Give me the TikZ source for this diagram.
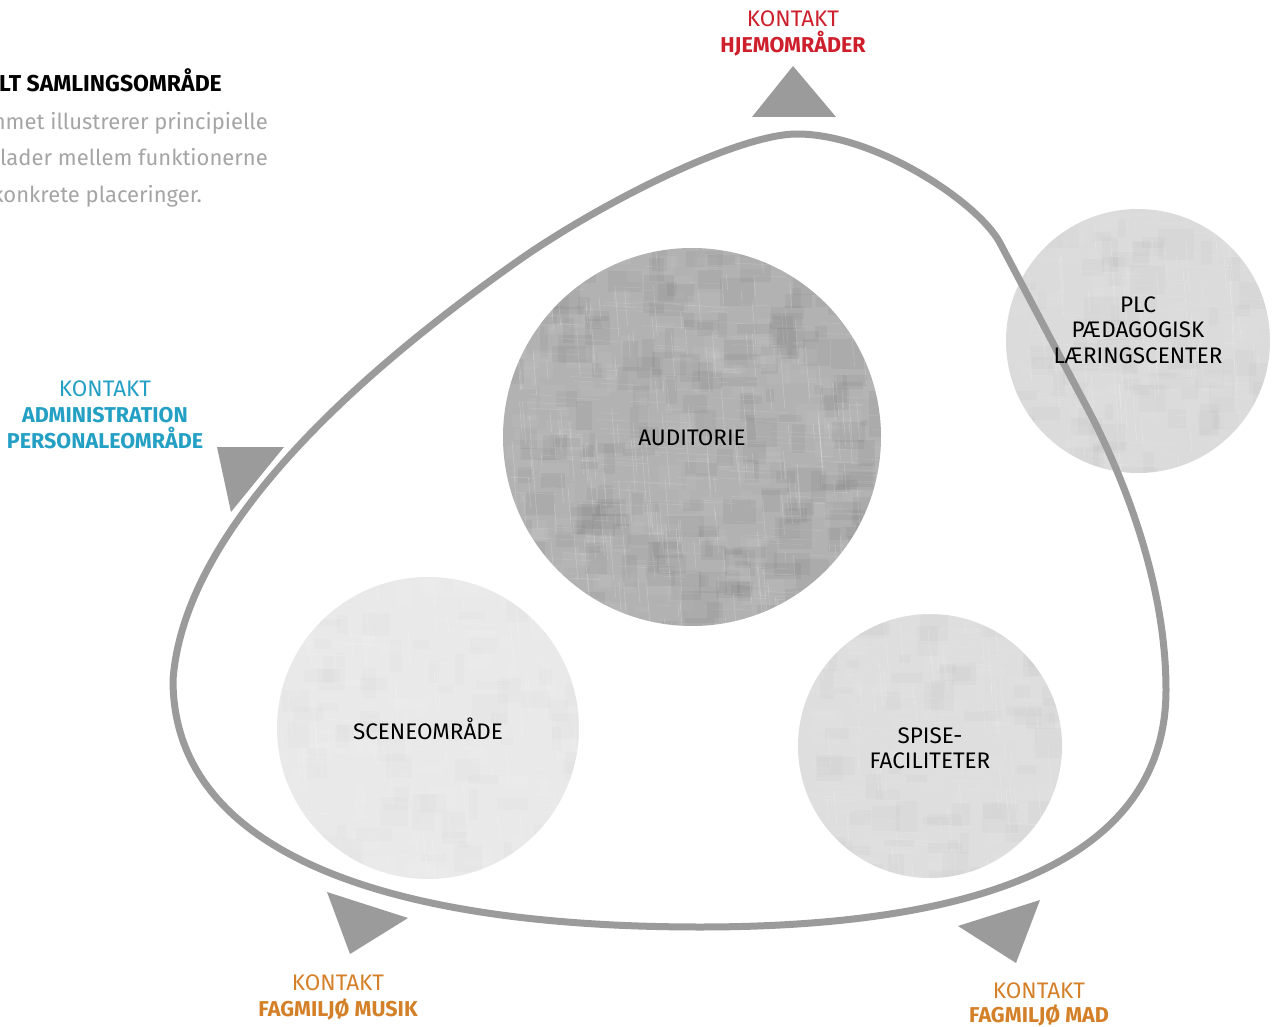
\documentclass[tikz,border=0pt]{standalone}
\usepackage{fontspec}
\setmainfont{Fira Sans}
\definecolor{linegray}{RGB}{155,155,155}
\definecolor{txtgray}{RGB}{165,165,165}
\definecolor{kred}{RGB}{205,32,44}
\definecolor{kcyan}{RGB}{36,160,196}
\definecolor{korange}{RGB}{212,128,40}
\definecolor{audfill}{RGB}{178,178,178}
\definecolor{plcfill}{RGB}{219,219,219}
\definecolor{scnfill}{RGB}{233,233,233}
\definecolor{spifill}{RGB}{222,222,222}
\tikzset{
  zone/.style={circle, draw=none, inner sep=0pt},
  ztext/.style={align=center, text=black, inner sep=0pt,
    font=\fontsize{22.5}{25.5}\selectfont},
  lbl/.style={anchor=base, inner sep=0pt, font=\fontsize{22.5}{26}\selectfont},
  lblb/.style={anchor=base, inner sep=0pt, font=\fontsize{21.5}{26}\selectfont\bfseries},
  tri/.style={fill=linegray, draw=none},
  loop/.style={draw=linegray, line width=7pt},
  desc/.style={anchor=base east, inner sep=0pt, text=txtgray, font=\fontsize{22}{26}\selectfont}
}
\newcommand{\mottle}[5]{% cx, cy, r, count, dark opacity
  \begin{scope}
  \clip (#1,#2) circle[radius=#3];
  \foreach \i in {1,...,#4}{
    \pgfmathsetmacro\rx{#1-#3+2*#3*rnd}\pgfmathsetmacro\ry{#2-#3+2*#3*rnd}
    \pgfmathsetmacro\ra{6+26*rnd}\pgfmathsetmacro\rb{5+20*rnd}
    \fill[white,opacity=0.05] (\rx,\ry) rectangle ++(\ra,\rb);
    \pgfmathsetmacro\dx{#1-#3+2*#3*rnd}\pgfmathsetmacro\dy{#2-#3+2*#3*rnd}
    \pgfmathsetmacro\da{8+30*rnd}\pgfmathsetmacro\db{6+26*rnd}
    \fill[black,opacity=#5] (\dx,\dy) rectangle ++(\da,\db);
    \pgfmathsetmacro\sx{#1-#3+2*#3*rnd}\pgfmathsetmacro\sy{#2-#3+2*#3*rnd}
    \pgfmathsetmacro\sl{10+50*rnd}
    \draw[white,opacity=0.22,line width=0.6pt] (\sx,\sy) -- ++(0.08*\sl,\sl);
    \pgfmathsetmacro\hx{#1-#3+2*#3*rnd}\pgfmathsetmacro\hy{#2-#3+2*#3*rnd}
    \draw[white,opacity=0.15,line width=0.5pt] (\hx,\hy) -- ++(\sl,0.05*\sl);
  }
  \end{scope}}
\begin{document}
\begin{tikzpicture}[x=1pt,y=-1pt]
\useasboundingbox (0,0) rectangle (1278,1027);
\fill[white] (0,0) rectangle (1278,1027);

% heading text
\node[anchor=base east, inner sep=0pt, font=\fontsize{23}{27}\selectfont\bfseries] (title) at (222,92) {LT SAMLINGSOMRÅDE};
\node[desc] (d1) at (268,130) {mmet illustrerer principielle};
\node[desc] (d2) at (268,166) {lader mellem funktionerne};
\node[desc] (d3) at (202,203) {konkrete placeringer.};

% circles
\pgfmathsetseed{11}
\node[zone, minimum size=378pt, fill=audfill] (aud) at (692,437) {};
\mottle{692}{437}{189}{220}{0.04}
\node[zone, minimum size=264pt, fill=plcfill] (plc) at (1138,341) {};
\mottle{1138}{341}{132}{70}{0.015}
\node[zone, minimum size=302pt, fill=scnfill] (scn) at (428,728) {};
\mottle{428}{728}{151}{70}{0.012}
\node[zone, minimum size=264pt, fill=spifill] (spi) at (930,746) {};
\mottle{930}{746}{132}{70}{0.015}

% closed loop
\draw[loop, line join=round] (797,134) .. controls (740,134) and (610,198) .. (525,256)
  .. controls (390,350) and (185,515) .. (173,680)
  .. controls (173,850) and (380,927) .. (700,927)
  .. controls (980,927) and (1166,860) .. (1166,690)
  .. controls (1166,580) and (1121,470) .. (1083,400)
  -- (1000,243) .. controls (978,202) and (875,134) .. cycle;

% circle texts
\node[ztext] (audt) at (692,438) {AUDITORIE};
\node[ztext] (plct) at (1138,330) {PLC\\PÆDAGOGISK\\LÆRINGSCENTER};
\node[ztext] (scnt) at (428,729) {SCENEOMRÅDE};
\node[ztext] (spit) at (930,748) {SPISE-\\FACILITETER};

% triangles
\fill[tri] (793,66) -- (836,117) -- (752,117) -- cycle;
\fill[tri] (217,447) -- (284,447) -- (231,512) -- cycle;
\fill[tri] (327,892) -- (408,918) -- (350,954) -- cycle;
\fill[tri] (1040,900) -- (1016,963) -- (958,926) -- cycle;

% labels
\node[lbl, text=kred] (k1) at (793,27) {KONTAKT};
\node[lblb, text=kred] (h1) at (793,53) {HJEMOMRÅDER};
\node[lbl, text=kcyan] (k2) at (105,396) {KONTAKT};
\node[lblb, text=kcyan] (a2) at (105,422) {ADMINISTRATION};
\node[lblb, text=kcyan] (p2) at (105,448) {PERSONALEOMRÅDE};
\node[lbl, text=korange] (k3) at (338,990) {KONTAKT};
\node[lblb, text=korange] (f3) at (338,1016) {FAGMILJØ MUSIK};
\node[lbl, text=korange] (k4) at (1039,998) {KONTAKT};
\node[lblb, text=korange] (f4) at (1039,1022) {FAGMILJØ MAD};
\end{tikzpicture}
\end{document}
